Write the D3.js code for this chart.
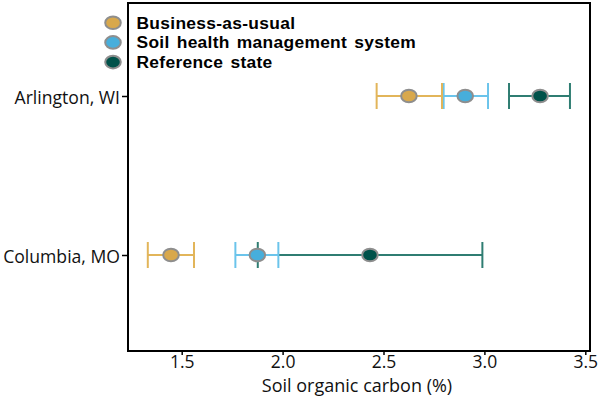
<!DOCTYPE html>
<html><head><meta charset="utf-8">
<script src="https://cdn.jsdelivr.net/npm/d3@7"></script>
<style>body{margin:0;background:#fff}svg{display:block}</style>
</head><body>
<svg id="c" width="600" height="398"></svg>
<script>
const sites = ["Arlington, WI", "Columbia, MO"];
const seriesNames = ["Business-as-usual", "Soil health management system", "Reference state"];
const seriesFill = ["#D8A84C", "#47AEDB", "#00524A"];
const seriesLine = ["#E2B55A", "#6BC4EB", "#2F7D72"];
// mean, low, high per site
const bauMean = [2.626, 1.447], bauLow = [2.466, 1.332], bauHigh = [2.790, 1.561];
const shmsMean = [2.905, 1.875], shmsLow = [2.798, 1.766], shmsHigh = [3.018, 1.979];
const refMean = [3.276, 2.433], refLow = [3.122, 1.877], refHigh = [3.424, 2.990];
const xTicks = [1.5, 2.0, 2.5, 3.0, 3.5];
const xTitle = "Soil organic carbon (%)";

const series = [
  {name: seriesNames[0], mean: bauMean, low: bauLow, high: bauHigh, fill: seriesFill[0], line: seriesLine[0]},
  {name: seriesNames[1], mean: shmsMean, low: shmsLow, high: shmsHigh, fill: seriesFill[1], line: seriesLine[1]},
  {name: seriesNames[2], mean: refMean, low: refLow, high: refHigh, fill: seriesFill[2], line: seriesLine[2]}
];

const svg = d3.select("#c");
const L = 128, R = 590, T = 3, B = 351;
const x = d3.scaleLinear().domain([1.2339, 3.5233]).range([L, R]);
const y = d3.scalePoint().domain(sites).range([96, 255]);
const font = "'Myriad Pro', 'Open Sans', sans-serif";
const boldFont = "'Myriad Pro', 'Liberation Sans', Arial, sans-serif";

// x axis
const xa = svg.append("g").attr("transform", `translate(0,${B})`)
  .call(d3.axisBottom(x).tickValues(xTicks).tickFormat(d3.format(".1f")).tickSize(4).tickPadding(1));
xa.select(".domain").remove();
xa.selectAll("line").attr("stroke", "#000").attr("stroke-width", 1.5);
xa.selectAll("text").attr("font-family", font).attr("font-size", 17.5).attr("fill", "#111");

// y axis
const ya = svg.append("g").attr("transform", `translate(${L},0)`)
  .call(d3.axisLeft(y).tickSize(6).tickPadding(2));
ya.select(".domain").remove();
ya.selectAll("line").attr("stroke", "#000").attr("stroke-width", 1.5);
ya.selectAll("text").attr("font-family", font).attr("font-size", 17.6).attr("fill", "#111").attr("dy", "0.4em");

svg.append("text").attr("x", (L + R) / 2 - 2).attr("y", 391.5)
  .attr("text-anchor", "middle").attr("font-family", font).attr("font-size", 18).attr("fill", "#111")
  .text(xTitle);

// error bars, drawn reference first so others are on top
const cap = 13;
const drawOrder = [2, 1, 0];
drawOrder.forEach(si => {
  const s = series[si];
  const g = svg.append("g").attr("stroke", s.line).attr("stroke-width", 2).attr("fill", "none");
  sites.forEach((site, i) => {
    const yy = y(site);
    g.append("line").attr("x1", x(s.low[i])).attr("x2", x(s.high[i])).attr("y1", yy).attr("y2", yy);
    g.append("line").attr("x1", x(s.low[i])).attr("x2", x(s.low[i])).attr("y1", yy - cap).attr("y2", yy + cap);
    g.append("line").attr("x1", x(s.high[i])).attr("x2", x(s.high[i])).attr("y1", yy - cap).attr("y2", yy + cap);
  });
});
drawOrder.forEach(si => {
  const s = series[si];
  sites.forEach((site, i) => {
    svg.append("ellipse").attr("cx", x(s.mean[i])).attr("cy", y(site))
      .attr("rx", 7.8).attr("ry", 6.3)
      .attr("fill", s.fill).attr("stroke", "#8E8E8E").attr("stroke-width", 2);
  });
});

// frame
svg.append("rect").attr("x", L).attr("y", T).attr("width", R - L).attr("height", B - T)
  .attr("fill", "none").attr("stroke", "#000").attr("stroke-width", 2);

// legend
series.forEach((s, i) => {
  const ly = 22.7 + i * 19.7;
  svg.append("ellipse").attr("cx", 113).attr("cy", ly).attr("rx", 7.8).attr("ry", 6.3)
    .attr("fill", s.fill).attr("stroke", "#8E8E8E").attr("stroke-width", 2);
  svg.append("text").attr("x", 136.5).attr("y", ly + 6)
    .attr("font-family", boldFont).attr("font-weight", "bold").attr("font-size", 17.4).attr("fill", "#000")
    .attr("letter-spacing", 0.3).attr("word-spacing", 2)
    .text(s.name);
});
</script>
</body></html>
